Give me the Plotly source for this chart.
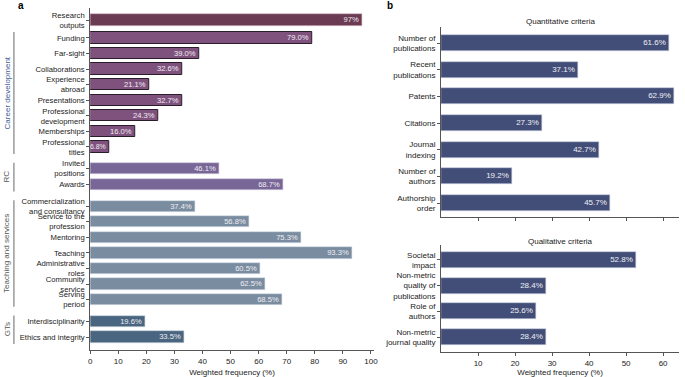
import plotly.graph_objects as go

# ---------------- data: panel a ----------------
research_labels = ["Research<br>outputs"]
research_values = [97]

career_labels = ["Funding", "Far-sight", "Collaborations", "Experience<br>abroad",
                 "Presentations", "Professional<br>development", "Memberships",
                 "Professional<br>titles"]
career_values = [79.0, 39.0, 32.6, 21.1, 32.7, 24.3, 16.0, 6.8]

rc_labels = ["Invited<br>positions", "Awards"]
rc_values = [46.1, 68.7]

teaching_labels = ["Commercialization<br>and consultancy", "Service to the<br>profession",
                   "Mentoring", "Teaching", "Administrative<br>roles",
                   "Community<br>service", "Serving<br>period"]
teaching_values = [37.4, 56.8, 75.3, 93.3, 60.5, 62.5, 68.5]

gts_labels = ["Interdisciplinarity", "Ethics and integrity"]
gts_values = [19.6, 33.5]

# ---------------- data: panel b ----------------
quant_labels = ["Number of<br>publications", "Recent<br>publications", "Patents",
                "Citations", "Journal<br>indexing", "Number of<br>authors",
                "Authorship<br>order"]
quant_values = [61.6, 37.1, 62.9, 27.3, 42.7, 19.2, 45.7]

qual_labels = ["Societal<br>impact", "Non-metric<br>quality of<br>publications",
               "Role of<br>authors", "Non-metric<br>journal quality"]
qual_values = [52.8, 28.4, 25.6, 28.4]

left_ticks = [0, 10, 20, 30, 40, 50, 60, 70, 80, 90, 100]
right_ticks = [10, 20, 30, 40, 50, 60]

# ---------------- styling ----------------
FONT = "Liberation Sans, Arial, sans-serif"
W, H = 685, 377
TXT = "#222222"
AX = "#555555"


def px(x):
    return x / W


def py(y):
    return 1 - y / H


groups = [
    ("", research_labels, research_values, "#6a3b52", "#d9b8c8", 0.6),
    ("Career development", career_labels, career_values, "#7f527e", "#2a1e2a", 1.0),
    ("RC", rc_labels, rc_values, "#786796", "#cfc8e0", 0.6),
    ("Teaching and services", teaching_labels, teaching_values, "#7a8ca0", "#d5dde6", 0.6),
    ("GTs", gts_labels, gts_values, "#4a657f", "#c8d3de", 0.6),
]
gaps = [0.0, 0.15, 0.4, 0.4, 0.4]


def fmt(v, g):
    return f"{v:.0f}%" if g == "" else f"{v:.1f}%"


fig = go.Figure()

pos = 0.0
all_pos, all_lab = [], []
group_spans = []
for gi, (gname, labs, vals, col, edge, lw) in enumerate(groups):
    if gi > 0:
        pos += 1 + gaps[gi]
    ys = []
    for k in range(len(labs)):
        if k > 0:
            pos += 1
        ys.append(pos)
    all_pos += ys
    all_lab += labs
    group_spans.append((gname, ys[0], ys[-1]))
    fig.add_trace(go.Bar(
        x=vals, y=ys, orientation="h", width=0.72,
        marker=dict(color=col, line=dict(color=edge, width=lw)),
        text=[fmt(v, gname) for v in vals], textposition="inside",
        insidetextanchor="end", constraintext="none", textangle=0,
        textfont=dict(family=FONT, size=[7.6 if v >= 10 else 6.9 for v in vals],
                      color="#f0ecf4"),
        cliponaxis=False, xaxis="x", yaxis="y", showlegend=False,
        hoverinfo="skip"))

y_top = -0.77
y_bot = all_pos[-1] + 0.83

NAVY = "#434e78"
quant_pos = list(range(len(quant_values)))
qual_pos = list(range(len(qual_values)))
fig.add_trace(go.Bar(
    x=quant_values, y=quant_pos, orientation="h", width=0.6,
    marker=dict(color=NAVY, line=dict(color="#c5cbe0", width=0.6)),
    text=[f"{v:.1f}%" for v in quant_values], textposition="inside",
    insidetextanchor="end", constraintext="none", textangle=0,
    textfont=dict(family=FONT, size=8, color="#eef0f6"),
    xaxis="x2", yaxis="y2", showlegend=False, hoverinfo="skip"))
fig.add_trace(go.Bar(
    x=qual_values, y=qual_pos, orientation="h", width=0.62,
    marker=dict(color=NAVY, line=dict(color="#c5cbe0", width=0.6)),
    text=[f"{v:.1f}%" for v in qual_values], textposition="inside",
    insidetextanchor="end", constraintext="none", textangle=0,
    textfont=dict(family=FONT, size=8, color="#eef0f6"),
    xaxis="x3", yaxis="y3", showlegend=False, hoverinfo="skip"))

tickfont = dict(family=FONT, size=8, color=TXT)
common_axis = dict(showgrid=False, zeroline=False, showline=True, linecolor=AX,
                   linewidth=1, ticks="outside", ticklen=3, tickcolor=AX,
                   tickfont=tickfont)
left_y_axis = dict(common_axis)
left_y_axis["tickfont"] = dict(family=FONT, size=7.7, color=TXT)

fig.update_layout(
    width=W, height=H, margin=dict(l=0, r=0, t=0, b=0),
    paper_bgcolor="white", plot_bgcolor="white",
    font=dict(family=FONT, size=8, color=TXT),
    bargap=0,
    xaxis=dict(domain=[px(89), px(375)], range=[0, 101], tickvals=left_ticks,
               anchor="y",
               title=dict(text="Weighted frequency (%)", standoff=4,
                          font=dict(family=FONT, size=8, color=TXT)),
               **common_axis),
    yaxis=dict(domain=[py(350), py(8)], range=[y_bot, y_top], tickvals=all_pos,
               ticktext=all_lab, anchor="x", **left_y_axis),
    xaxis2=dict(domain=[px(443), px(683)], range=[0, 64.3], tickvals=right_ticks,
                showticklabels=False, anchor="y2", **common_axis),
    yaxis2=dict(domain=[py(217), py(27)], range=[len(quant_values) - 0.475, -0.6],
                tickvals=quant_pos, ticktext=quant_labels, anchor="x2", **common_axis),
    xaxis3=dict(domain=[px(443), px(683)], range=[0, 64.3], tickvals=right_ticks,
                anchor="y3",
                title=dict(text="Weighted frequency (%)", standoff=4,
                           font=dict(family=FONT, size=8, color=TXT)),
                **common_axis),
    yaxis3=dict(domain=[py(352), py(245)], range=[len(qual_values) - 0.42, -0.58],
                tickvals=qual_pos, ticktext=qual_labels, anchor="x3", **common_axis),
)

# group brackets and labels
for gname, y0, y1 in group_spans:
    if not gname:
        continue
    fig.add_shape(type="line", xref="paper", yref="y", x0=px(12), x1=px(12),
                  y0=y0 - 0.38, y1=y1 + 0.45, line=dict(color="#9a9a9a", width=1.5))
    fig.add_annotation(text=gname, xref="paper", yref="y", x=px(5),
                       y=(y0 + y1) / 2, textangle=-90, showarrow=False,
                       xanchor="center", yanchor="middle",
                       font=dict(family=FONT, size=8,
                                 color="#3f6397" if gname == "Career development" else "#555555"))

# panel letters and subplot titles
fig.add_annotation(text="<b>a</b>", xref="paper", yref="paper", x=px(14), y=py(5),
                   showarrow=False, xanchor="left", yanchor="middle",
                   font=dict(family=FONT, size=10, color="#000"))
fig.add_annotation(text="<b>b</b>", xref="paper", yref="paper", x=px(386), y=py(5),
                   showarrow=False, xanchor="left", yanchor="middle",
                   font=dict(family=FONT, size=10, color="#000"))
fig.add_annotation(text="Quantitative criteria", xref="paper", yref="paper",
                   x=px(563), y=py(21), showarrow=False,
                   xanchor="center", yanchor="middle",
                   font=dict(family=FONT, size=8, color=TXT))
fig.add_annotation(text="Qualitative criteria", xref="paper", yref="paper",
                   x=px(563), y=py(242), showarrow=False,
                   xanchor="center", yanchor="middle",
                   font=dict(family=FONT, size=8, color=TXT))

fig.write_html("out.html", config={"displayModeBar": False},
               post_script="document.body.style.margin='0';document.body.style.overflow='hidden';")
